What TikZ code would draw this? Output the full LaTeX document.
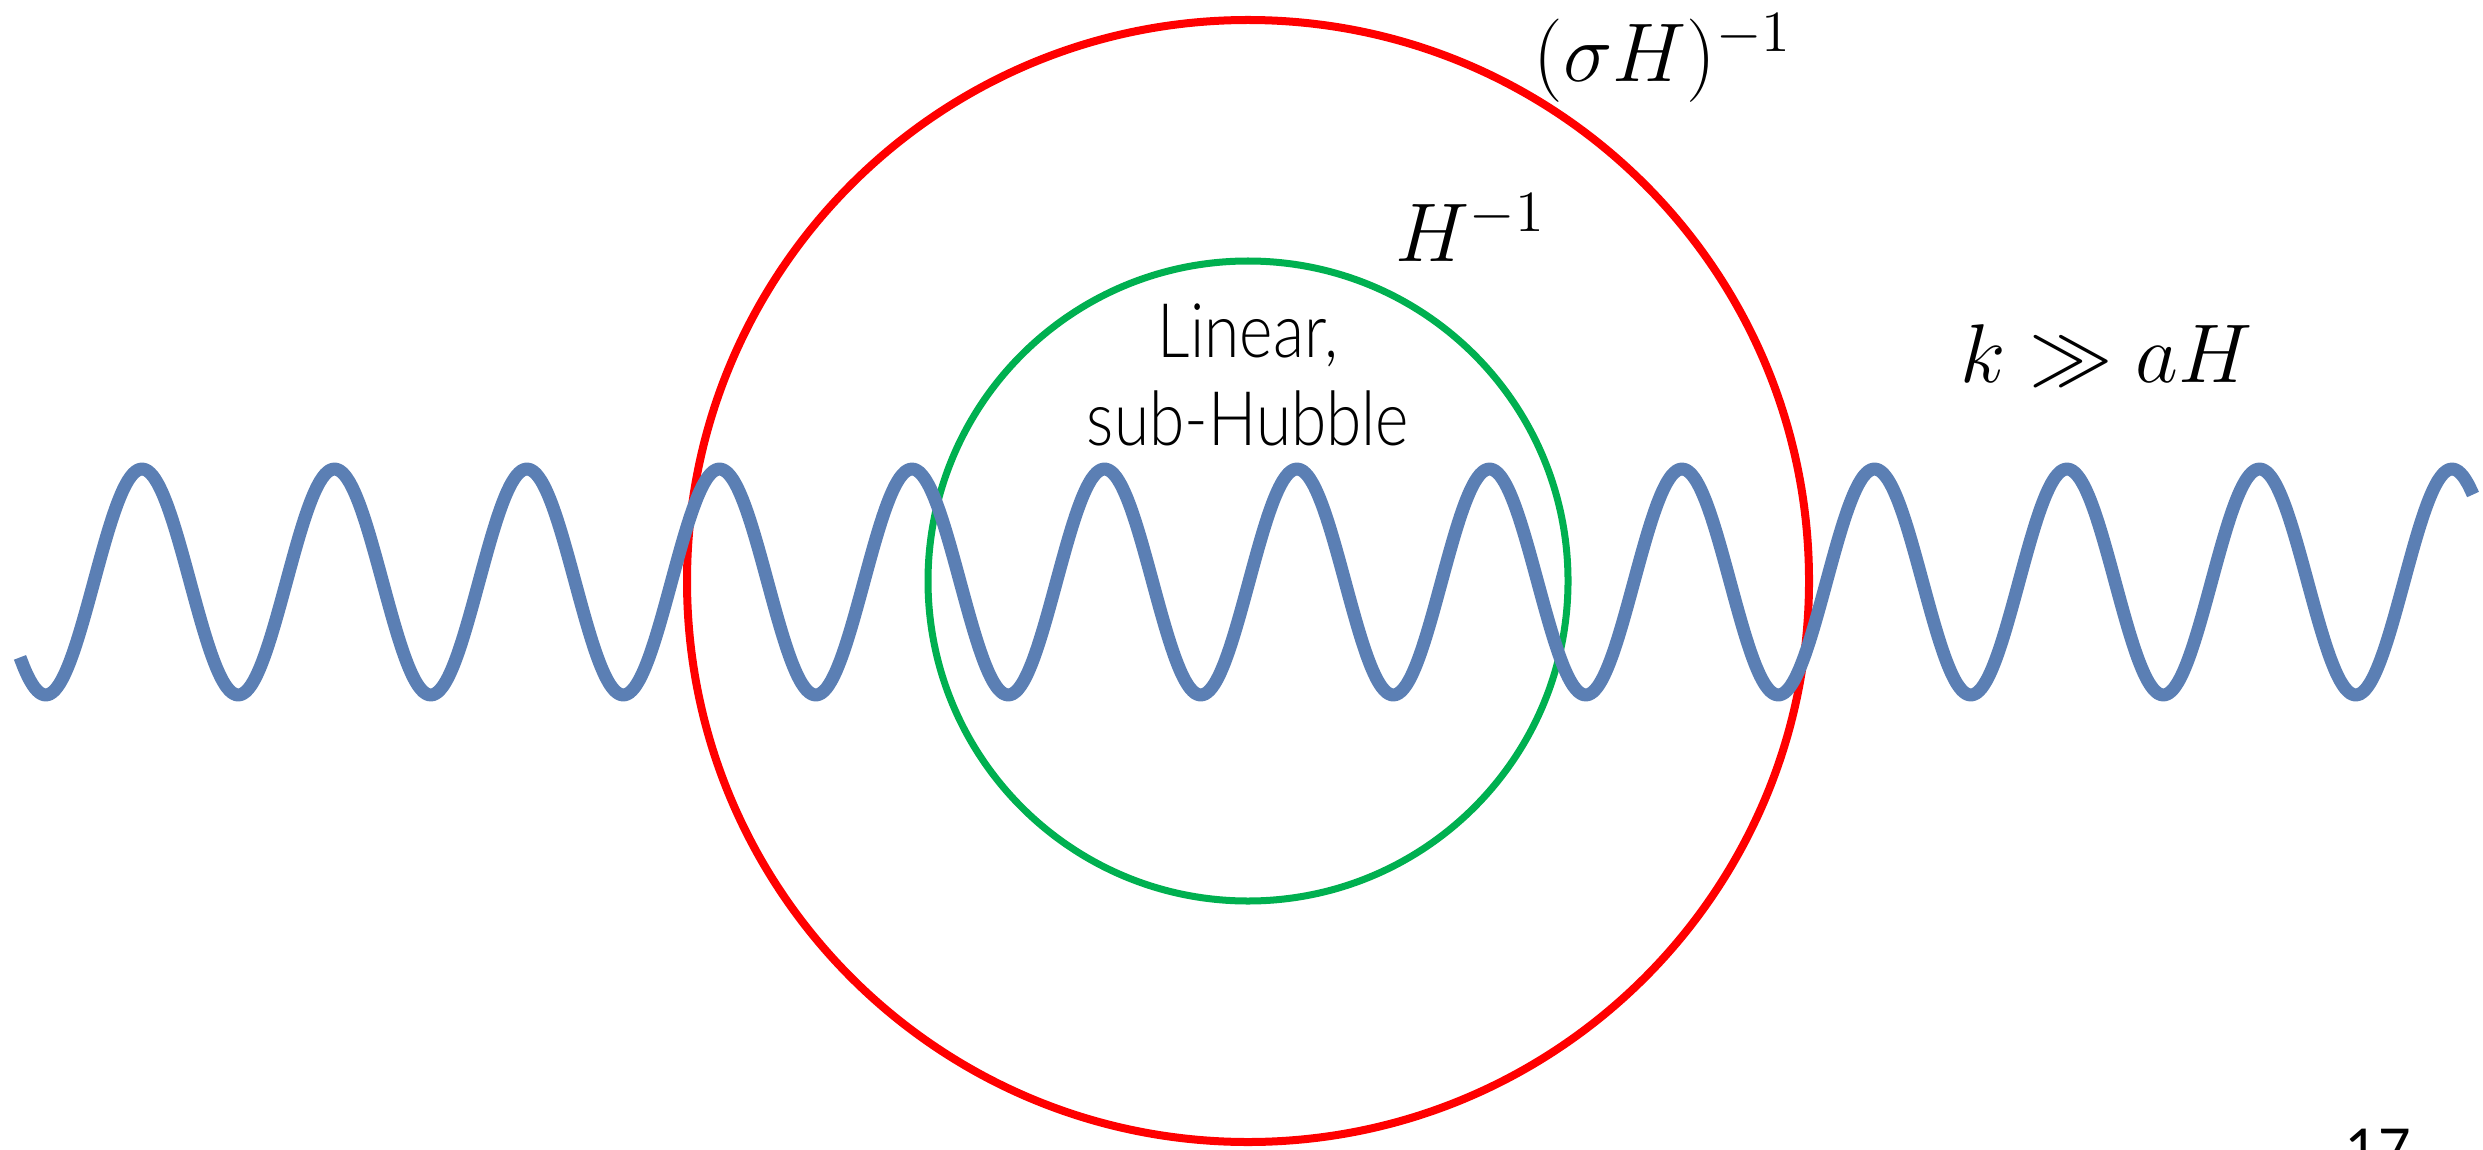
\RequirePackage{fix-cm}
\documentclass[tikz,border=0pt]{standalone}
\usepackage{fontspec}
\usepackage{xcolor}
\newfontfamily\slidefont{Lato Light}[FakeStretch=0.85]
\newfontfamily\numfont{Lato}
\definecolor{waveblue}{RGB}{91,127,180}
\definecolor{ringred}{RGB}{255,0,0}
\definecolor{ringgreen}{RGB}{0,176,80}

\begin{document}
\begin{tikzpicture}[
x=0.01cm, y=-0.01cm,
wave/.style={draw=waveblue, line width=0.13cm, line join=round},
outerring/.style={draw=ringred, line width=0.08cm},
innerring/.style={draw=ringgreen, line width=0.07cm},
mathlabel/.style={font=\fontsize{23.7}{28}\selectfont, inner sep=0pt},
textlabel/.style={font=\slidefont\fontsize{21.4}{25}\selectfont, align=center, inner sep=0pt}
]
\useasboundingbox (0,0) rectangle (2483,1149);
\coordinate (centre) at (1248,581);
% horizon circles
\draw[outerring] (centre) circle[radius=561];
\draw[innerring] (centre) circle[radius=320];
% the mode
\draw[wave] plot[domain=20:2473, samples=500, smooth] (\x, {582 - 113*cos((\x-142)/192.5*360)});
% labels
\node[mathlabel, anchor=base west] (sigmaH) at (1533,82) {$(\sigma H)^{-1}$};
\node[mathlabel, anchor=base west] (Hinv) at (1395,262) {$H^{-1}$};
\node[mathlabel, anchor=base west] (kaH) at (1960,383) {$k \gg aH$};
\node[textlabel, anchor=north] (linear) at (1248,303) {Linear,\\sub-Hubble};
\node[anchor=north west, inner sep=0pt, font=\numfont\fontsize{16}{18}\selectfont] (slideno) at (2345,1128) {17};
\end{tikzpicture}
\end{document}
